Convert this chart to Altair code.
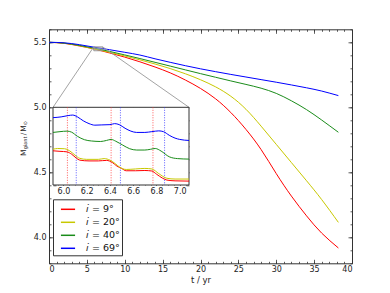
import altair as alt
import pandas as pd

# ---------------- data ----------------
series = ["𝑖 = 9°", "𝑖 = 20°", "𝑖 = 40°", "𝑖 = 69°"]
colors = ["#ff0000", "#c8c800", "#1a8c1a", "#0000ff"]

t_main = [0, 2, 4, 6, 8, 10, 12, 14, 16, 18, 20, 22, 24, 26, 28, 30, 32, 34, 36, 38.2]
m_i9 = [5.5, 5.492, 5.472, 5.448, 5.418, 5.386, 5.350, 5.310, 5.265, 5.210, 5.145, 5.065, 4.96, 4.83, 4.675, 4.49, 4.317, 4.165, 4.032, 3.918]
m_i20 = [5.5, 5.493, 5.474, 5.449, 5.423, 5.395, 5.365, 5.333, 5.298, 5.258, 5.212, 5.157, 5.085, 4.985, 4.855, 4.715, 4.575, 4.435, 4.29, 4.115]
m_i40 = [5.5, 5.494, 5.476, 5.455, 5.430, 5.403, 5.375, 5.346, 5.317, 5.288, 5.259, 5.231, 5.203, 5.176, 5.147, 5.107, 5.050, 4.982, 4.902, 4.808]
m_i69 = [5.5, 5.496, 5.482, 5.462, 5.443, 5.423, 5.402, 5.373, 5.346, 5.320, 5.296, 5.274, 5.253, 5.233, 5.213, 5.193, 5.172, 5.150, 5.125, 5.090]

# inset (zoom on 5.91 < t < 7.08)
ti_i9 = [5.91, 5.97, 6.03, 6.07, 6.11, 6.14, 6.22, 6.30, 6.37, 6.42, 6.46, 6.50, 6.54, 6.62, 6.70, 6.76, 6.80, 6.85, 6.89, 6.96, 7.08]
mi_i9 = [5.4482, 5.4480, 5.4478, 5.4469, 5.4454, 5.4446, 5.4443, 5.4443, 5.4445, 5.4437, 5.4423, 5.4414, 5.4405, 5.4405, 5.4406, 5.4404, 5.4392, 5.4377, 5.4369, 5.4366, 5.4365]
ti_i20 = [5.91, 5.95, 6.01, 6.05, 6.10, 6.14, 6.20, 6.30, 6.35, 6.40, 6.45, 6.48, 6.54, 6.62, 6.70, 6.76, 6.82, 6.89, 6.96, 7.08]
mi_i20 = [5.4488, 5.4491, 5.4490, 5.4483, 5.4465, 5.4453, 5.4449, 5.4449, 5.4452, 5.4446, 5.4431, 5.4420, 5.4410, 5.4412, 5.4414, 5.4412, 5.4394, 5.4376, 5.4373, 5.4373]
ti_i40 = [5.91, 5.97, 6.03, 6.07, 6.12, 6.18, 6.24, 6.32, 6.37, 6.41, 6.45, 6.51, 6.57, 6.63, 6.70, 6.75, 6.79, 6.84, 6.91, 6.98, 7.08]
mi_i40 = [5.4553, 5.4556, 5.4558, 5.4554, 5.4538, 5.4525, 5.4520, 5.4518, 5.4522, 5.4526, 5.4519, 5.4504, 5.4490, 5.4485, 5.4485, 5.4488, 5.4491, 5.4481, 5.4459, 5.4452, 5.4450]
ti_i69 = [5.91, 5.98, 6.04, 6.08, 6.12, 6.17, 6.22, 6.27, 6.33, 6.40, 6.44, 6.48, 6.53, 6.58, 6.63, 6.70, 6.76, 6.82, 6.86, 6.91, 6.96, 7.00, 7.08]
mi_i69 = [5.4610, 5.4613, 5.4618, 5.4620, 5.4613, 5.4598, 5.4587, 5.4581, 5.4582, 5.4583, 5.4587, 5.4583, 5.4569, 5.4558, 5.4553, 5.4553, 5.4556, 5.4559, 5.4556, 5.4542, 5.4531, 5.4526, 5.4522]

red_marks_t = [6.034, 6.41, 6.77]
blue_marks_t = [6.11, 6.49, 6.87]

inset_t = [5.91, 7.08]
inset_m = [5.435, 5.465]

x_major = [0, 5, 10, 15, 20, 25, 30, 35, 40]
x_minor = list(range(0, 41))
y_major = [4.0, 4.5, 5.0, 5.5]
y_minor = [round(3.8 + 0.1 * k, 1) for k in range(19)]
xi_major = [6.0, 6.2, 6.4, 6.6, 6.8, 7.0]
xi_minor = [round(5.95 + 0.05 * k, 2) for k in range(23)]
yi_major = [5.435, 5.44, 5.445, 5.45, 5.455, 5.46, 5.465]

# ---------------- layout ----------------
W, H = 303, 234
IX0, IX1, IY0, IY1 = 4, 140, 78, 155.7
TK, TKm = 4, 2
TKi, TKim = 3, 1.5

main_df = pd.DataFrame(
    [{"t": t, "M": m, "series": s, "k": i}
     for i, (s, ms) in enumerate(zip(series, [m_i9, m_i20, m_i40, m_i69]))
     for t, m in zip(t_main, ms)]
)
inset_df = pd.DataFrame(
    [{"t": t, "M": m, "series": s, "k": i}
     for i, (s, ts, ms) in enumerate(zip(series,
                                          [ti_i9, ti_i20, ti_i40, ti_i69],
                                          [mi_i9, mi_i20, mi_i40, mi_i69]))
     for t, m in zip(ts, ms)]
)

cscale = alt.Scale(domain=series, range=colors)
xs = alt.Scale(domain=[0, 40], nice=False, zero=False)
ys = alt.Scale(domain=[3.8, 5.6], nice=False, zero=False)
xsi = alt.Scale(domain=inset_t, range=[IX0, IX1], nice=False, zero=False)
ysi = alt.Scale(domain=inset_m, range=[IY1, IY0], nice=False, zero=False)

legend = alt.Legend(
    orient="none", legendX=4, legendY=170, title=None,
    symbolType="stroke", symbolSize=200, symbolStrokeWidth=1.5,
    labelFontSize=9.5, labelFont="DejaVu Sans", labelOffset=10,
    rowPadding=0, padding=2, symbolOffset=5,
    strokeColor="#333", fillColor="white", labelColor="#111",
)


def tick_axis(orient, values, size, offset):
    return alt.Axis(orient=orient, values=values, labels=False, tickSize=size,
                    offset=offset, domain=False, title="", grid=False)


base = alt.Chart(main_df)
lines = base.mark_line(strokeWidth=1, interpolate="natural").encode(
    x=alt.X("t:Q", scale=xs, axis=alt.Axis(
        orient="bottom", values=x_major, format="d", tickSize=TK, offset=-TK,
        domain=False, labelPadding=2, title="t / yr", titlePadding=2, grid=False)),
    y=alt.Y("M:Q", scale=ys, axis=alt.Axis(
        orient="left", values=y_major, format=".1f", tickSize=TK, offset=-TK,
        domain=False, labelPadding=3, title="", grid=False)),
    color=alt.Color("series:N", scale=cscale, legend=legend),
    order="k:Q",
)
ax2 = base.mark_line(opacity=0).encode(
    x=alt.X("t:Q", scale=xs, axis=tick_axis("top", x_major, TK, -TK)),
    y=alt.Y("M:Q", scale=ys, axis=tick_axis("right", y_major, TK, -TK)),
)
ax3 = base.mark_line(opacity=0).encode(
    x=alt.X("t:Q", scale=xs, axis=tick_axis("bottom", x_minor, TKm, -TKm)),
    y=alt.Y("M:Q", scale=ys, axis=tick_axis("left", y_minor, TKm, -TKm)),
)
ax4 = base.mark_line(opacity=0).encode(
    x=alt.X("t:Q", scale=xs, axis=tick_axis("top", x_minor, TKm, -TKm)),
    y=alt.Y("M:Q", scale=ys, axis=tick_axis("right", y_minor, TKm, -TKm)),
)

zoom_df = pd.DataFrame({"t0": [inset_t[0]], "t1": [inset_t[1]],
                        "m0": [inset_m[0]], "m1": [inset_m[1]]})
zoom_rect = alt.Chart(zoom_df).mark_rect(
    fill="#bbbbbb", fillOpacity=0.45, stroke="#888888", strokeWidth=0.8).encode(
    x=alt.X("t0:Q", scale=xs, axis=None), x2="t1:Q",
    y=alt.Y("m0:Q", scale=ys, axis=None), y2="m1:Q")
conn_l = alt.Chart(zoom_df).mark_rule(color="#999999", strokeWidth=0.9).encode(
    x=alt.X("t0:Q", scale=xs, axis=None), y=alt.Y("m1:Q", scale=ys, axis=None),
    x2=alt.value(IX0), y2=alt.value(IY0))
conn_r = alt.Chart(zoom_df).mark_rule(color="#999999", strokeWidth=0.9).encode(
    x=alt.X("t1:Q", scale=xs, axis=None), y=alt.Y("m1:Q", scale=ys, axis=None),
    x2=alt.value(IX1), y2=alt.value(IY0))

main = alt.layer(lines, ax2, ax3, ax4, zoom_rect, conn_l, conn_r).resolve_axis(
    x="independent", y="independent")

# ---------------- inset ----------------
frame = alt.Chart(pd.DataFrame({"a": [0]})).mark_rect(
    fill="white", stroke="#333333", strokeWidth=1).encode(
    x=alt.value(IX0), x2=alt.value(IX1), y=alt.value(IY0), y2=alt.value(IY1))

ibase = alt.Chart(inset_df)
ilines = ibase.mark_line(strokeWidth=1, interpolate="monotone").encode(
    x=alt.X("t:Q", scale=xsi, axis=alt.Axis(
        orient="bottom", values=xi_major, format=".1f", tickSize=TKi,
        offset=-(H - IY1) - TKi, domain=False, labelPadding=2, title="", grid=False)),
    y=alt.Y("M:Q", scale=ysi, axis=tick_axis("left", yi_major, TKi, -(IX0 + TKi))),
    color=alt.Color("series:N", scale=cscale, legend=legend),
    order="k:Q",
)
iax2 = ibase.mark_line(opacity=0).encode(
    x=alt.X("t:Q", scale=xsi, axis=tick_axis("top", xi_major, TKi, -(IY0 + TKi))),
    y=alt.Y("M:Q", scale=ysi, axis=tick_axis("right", yi_major, TKi, -(W - IX1 + TKi))),
)
iax3 = ibase.mark_line(opacity=0).encode(
    x=alt.X("t:Q", scale=xsi, axis=tick_axis("bottom", xi_minor, TKim, -(H - IY1) - TKim)),
    y=alt.Y("M:Q", scale=ysi, axis=None),
)
iax4 = ibase.mark_line(opacity=0).encode(
    x=alt.X("t:Q", scale=xsi, axis=tick_axis("top", xi_minor, TKim, -(IY0 + TKim))),
    y=alt.Y("M:Q", scale=ysi, axis=None),
)

red_df = pd.DataFrame({"t": red_marks_t})
blue_df = pd.DataFrame({"t": blue_marks_t})
rdots = alt.Chart(red_df).mark_rule(color="#ff3030", strokeWidth=0.8, strokeDash=[1, 1.5]).encode(
    x=alt.X("t:Q", scale=xsi, axis=None), y=alt.value(IY0), y2=alt.value(IY1))
bdots = alt.Chart(blue_df).mark_rule(color="#3030ff", strokeWidth=0.8, strokeDash=[1, 1.5]).encode(
    x=alt.X("t:Q", scale=xsi, axis=None), y=alt.value(IY0), y2=alt.value(IY1))

inset = alt.layer(frame, rdots, bdots, ilines, iax2, iax3, iax4).resolve_axis(
    x="independent", y="independent")

# ---------------- y title (with subscripts) ----------------
one = pd.DataFrame({"a": [0]})
def ttext(txt, size, xpos, ypos):
    return alt.Chart(one).mark_text(
        text=txt, angle=270, align="left", baseline="alphabetic",
        font="DejaVu Sans", fontSize=size, color="#222").encode(
        x=alt.value(xpos), y=alt.value(ypos))

XB = -23.5
ytitle = [
    ttext("M", 7.5, XB, 126.7),
    ttext("giant", 5, XB + 1.8, 120.0),
    ttext("/", 7.5, XB, 106.0),
    ttext("M", 7.5, XB, 102.5),
    ttext("⊙", 5, XB + 1.8, 96.0),
]

chart = alt.layer(main, inset, *ytitle).resolve_scale(
    x="independent", y="independent"
).properties(
    width=W, height=H,
    autosize=alt.AutoSizeParams(type="none"),
    padding={"left": 41, "top": 21.3, "right": 30, "bottom": 21.7},
).configure_view(stroke="#333333", strokeWidth=1).configure_axis(
    labelFont="DejaVu Sans", titleFont="DejaVu Sans", labelFontSize=8,
    titleFontSize=8.5, titleFontWeight="normal", tickColor="#333333",
    labelColor="#222222", titleColor="#222222", tickWidth=0.8,
)

chart.save("out.html", embed_options={"renderer": "svg", "actions": False})
